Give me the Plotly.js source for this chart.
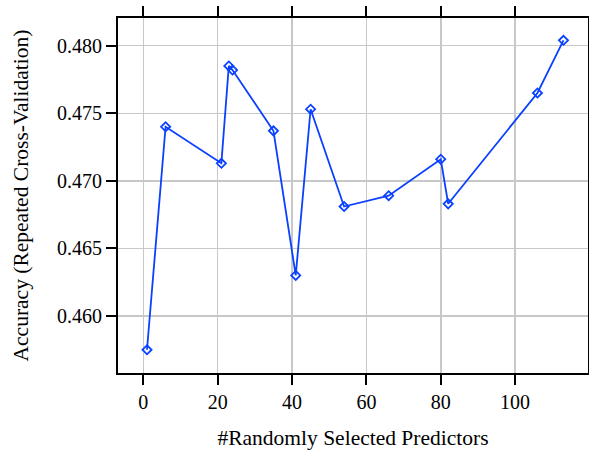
<!DOCTYPE html>
<html>
<head>
<meta charset="utf-8">
<script src="https://cdn.plot.ly/plotly-3.0.1.min.js"></script>
<style>html,body{margin:0;padding:0;background:#fff;}#chart{width:589px;height:452px;}</style>
</head>
<body>
<div id="chart"></div>
<script>
var predictors = [1, 6, 21, 23, 24, 35, 41, 45, 54, 66, 80, 82, 106, 113];
var accuracy = [0.4575, 0.4740, 0.4713, 0.4785, 0.4782, 0.4737, 0.4630, 0.4753, 0.4681, 0.4689, 0.4716, 0.4683, 0.4765, 0.4804];
var xTicks = [0, 20, 40, 60, 80, 100];
var yTicks = [0.460, 0.465, 0.470, 0.475, 0.480];
var yTickLabels = ["0.460", "0.465", "0.470", "0.475", "0.480"];

var fontFam = "'Liberation Serif', 'Times New Roman', serif";
var trace = {
  x: predictors,
  y: accuracy,
  type: "scatter",
  mode: "lines+markers",
  line: {color: "#0a40ff", width: 1.8},
  marker: {symbol: "diamond-open", size: 7, color: "#0a40ff", line: {width: 1.8, color: "#0a40ff"}},
  hoverinfo: "x+y"
};
var layout = {
  width: 589, height: 452,
  margin: {l: 118, r: 1, t: 18, b: 79},
  paper_bgcolor: "#fff", plot_bgcolor: "#fff",
  showlegend: false,
  font: {family: fontFam, color: "#000", size: 20},
  xaxis: {
    range: [-6.8, 119.6],
    tickvals: xTicks,
    ticktext: xTicks.map(String),
    ticks: "outside", ticklen: 10, tickwidth: 2, tickcolor: "#000",
    showline: true, linecolor: "#000", linewidth: 2, mirror: "ticks",
    showgrid: true, gridcolor: "#c8c8c8", gridwidth: 1.5,
    zeroline: false,
    tickfont: {family: fontFam, size: 20, color: "#000"},
    title: {text: "#Randomly Selected Predictors", font: {family: fontFam, size: 21.5, color: "#000"}, standoff: 18}
  },
  yaxis: {
    range: [0.45578, 0.48205],
    tickvals: yTicks,
    ticktext: yTickLabels,
    ticks: "outside", ticklen: 10, tickwidth: 2, tickcolor: "#000",
    showline: true, linecolor: "#000", linewidth: 2, mirror: "ticks",
    showgrid: true, gridcolor: "#c8c8c8", gridwidth: 1.5,
    zeroline: false,
    tickfont: {family: fontFam, size: 20, color: "#000"},
    title: {text: "Accuracy (Repeated Cross-Validation)", font: {family: fontFam, size: 21.5, color: "#000"}, standoff: 22}
  }
};
Plotly.newPlot("chart", [trace], layout, {displayModeBar: false, staticPlot: true});
</script>
</body>
</html>
